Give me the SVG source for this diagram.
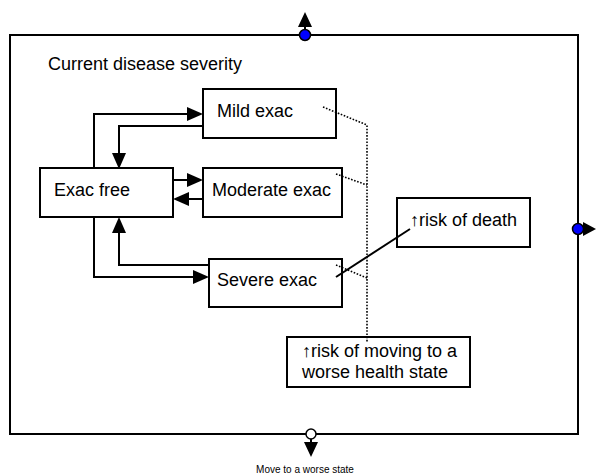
<svg xmlns="http://www.w3.org/2000/svg" width="596" height="476" viewBox="0 0 596 476">
  <style>
    .box { fill: #fff; stroke: #000; stroke-width: 2; }
    .frame { fill: none; stroke: #000; stroke-width: 2; }
    .lbl { font-family: "Liberation Sans", Arial, sans-serif; font-size: 18px; fill: #000; }
    .small { font-family: "Liberation Sans", Arial, sans-serif; font-size: 10px; fill: #000; }
    .flow { fill: none; stroke: #000; stroke-width: 2; }
    .dot { fill: none; stroke: #000; stroke-width: 1.6; stroke-dasharray: 1.6 1.6; }
    .head { fill: #000; }
  </style>

  <!-- outer state frame -->
  <rect class="frame" x="10" y="35" width="568" height="399"/>
  <text class="lbl" x="48" y="70">Current disease severity</text>

  <g id="mild-exac">
    <rect class="box" x="203" y="89" width="133" height="49"/>
    <text class="lbl" x="217" y="117">Mild exac</text>
  </g>
  <g id="exac-free">
    <rect class="box" x="40" y="168" width="133" height="49"/>
    <text class="lbl" x="54" y="196">Exac free</text>
  </g>
  <g id="moderate-exac">
    <rect class="box" x="203" y="168" width="139" height="49"/>
    <text class="lbl" x="212" y="196">Moderate exac</text>
  </g>
  <g id="severe-exac">
    <rect class="box" x="209" y="259" width="133" height="48"/>
    <text class="lbl" x="217" y="286">Severe exac</text>
  </g>
  <g id="risk-death">
    <rect class="box" x="397" y="198" width="133" height="49"/>
    <text class="lbl" x="410" y="226">↑risk of death</text>
  </g>
  <g id="risk-worse">
    <rect class="box" x="287" y="337" width="183" height="50"/>
    <text class="lbl" x="302" y="357">↑risk of moving to a</text>
    <text class="lbl" x="302" y="378">worse health state</text>
  </g>

  <g id="connectors">
    <!-- Exac free -> Mild exac -->
    <polyline class="flow" points="94,169 94,114 188,114"/>
    <polygon class="head" points="203,114 187,107 187,121"/>
    <!-- Mild exac -> Exac free -->
    <polyline class="flow" points="203,126 119,126 119,154"/>
    <polygon class="head" points="119,169 112,153 126,153"/>
    <!-- Exac free -> Moderate exac -->
    <line class="flow" x1="173" y1="180" x2="188" y2="180"/>
    <polygon class="head" points="203,180 187,173 187,187"/>
    <!-- Moderate exac -> Exac free -->
    <line class="flow" x1="203" y1="199" x2="188" y2="199"/>
    <polygon class="head" points="173,199 189,192 189,206"/>
    <!-- Exac free -> Severe exac -->
    <polyline class="flow" points="94,216 94,277 194,277"/>
    <polygon class="head" points="209,277 193,270 193,284"/>
    <!-- Severe exac -> Exac free -->
    <polyline class="flow" points="209,265 119,265 119,232"/>
    <polygon class="head" points="119,217 112,233 126,233"/>

    <!-- dotted links to the worse-state risk note -->
    <polyline class="dot" points="323,107 367,125 367,342"/>
    <line class="dot" x1="336" y1="174" x2="367" y2="185"/>
    <line class="dot" x1="336" y1="265" x2="367" y2="278"/>
    <!-- severe exac to risk of death -->
    <line class="flow" x1="336" y1="277" x2="410" y2="229"/>

    <!-- exits from the frame -->
    <line class="flow" x1="305" y1="35" x2="305" y2="25"/>
    <polygon class="head" points="305,12 298,27 312,27"/>
    <line class="flow" x1="578" y1="229" x2="586" y2="229"/>
    <polygon class="head" points="596,229 583,222 583,236"/>
    <line class="flow" x1="311" y1="434" x2="311" y2="445"/>
    <polygon class="head" points="311,457 304,442 318,442"/>
  </g>

  <g id="exit-top"><circle cx="305" cy="35" r="5.5" fill="#0000ff" stroke="#000" stroke-width="1.5"/></g>
  <g id="exit-right"><circle cx="578" cy="229" r="5.5" fill="#0000ff" stroke="#000" stroke-width="1.5"/></g>
  <g id="exit-bottom"><circle cx="311" cy="434" r="5" fill="#fff" stroke="#000" stroke-width="1.5"/></g>

  <text class="small" x="305" y="473" text-anchor="middle">Move to a worse state</text>
</svg>
